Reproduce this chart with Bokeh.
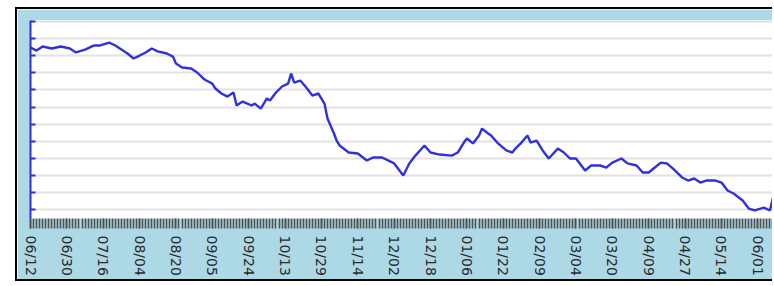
from bokeh.plotting import figure
from bokeh.models import Range1d, FixedTicker
from bokeh.embed import file_html
from bokeh.resources import INLINE

# ---- data ----
day_index = [0, 2, 4, 7, 10, 13, 15, 18, 21, 23, 26, 28, 30, 32, 34, 36, 38, 40, 42, 45,
             47, 48, 50, 53, 55, 57, 58, 60, 61, 63, 65, 67, 68, 70, 73, 74, 76, 78, 79, 81,
             83, 85, 86, 87, 89, 91, 93, 95, 97, 98, 100, 101, 102, 105, 108, 111, 113, 116, 120, 123,
             125, 127, 130, 132, 135, 139, 141, 143, 144, 146, 148, 149, 151, 152, 154, 157, 159, 160, 162, 164,
             165, 167, 169, 171, 174, 176, 178, 180, 183, 185, 188, 190, 192, 195, 197, 200, 202, 204, 206, 208,
             210, 212, 215, 217, 219, 221, 223, 226, 228, 230, 232, 235, 237, 239, 242, 244, 245]
price = [10.48, 10.30, 10.54, 10.42, 10.54, 10.42, 10.19, 10.36, 10.60, 10.60, 10.77, 10.60, 10.36, 10.13, 9.84, 10.01, 10.19, 10.42, 10.25, 10.13,
         9.95, 9.54, 9.31, 9.25, 9.02, 8.67, 8.55, 8.37, 8.08, 7.79, 7.61, 7.85, 7.09, 7.32, 7.09, 7.20, 6.91, 7.50, 7.38, 7.85,
         8.20, 8.37, 8.96, 8.43, 8.55, 8.14, 7.67, 7.79, 7.20, 6.33, 5.51, 5.04, 4.75, 4.34, 4.28, 3.87, 4.05, 4.05, 3.70, 2.99,
         3.70, 4.16, 4.75, 4.34, 4.22, 4.16, 4.34, 4.92, 5.16, 4.87, 5.33, 5.74, 5.45, 5.33, 4.92, 4.46, 4.34, 4.57, 4.92, 5.33,
         4.92, 5.04, 4.46, 3.99, 4.57, 4.34, 3.99, 3.99, 3.29, 3.58, 3.58, 3.46, 3.75, 3.99, 3.70, 3.58, 3.17, 3.17, 3.46, 3.75,
         3.70, 3.40, 2.88, 2.70, 2.82, 2.58, 2.70, 2.70, 2.58, 2.12, 1.94, 1.53, 1.06, 0.95, 1.12, 0.95, 1.71]
tick_labels = ["06/12", "06/30", "07/16", "08/04", "08/20", "09/05", "09/24", "10/13", "10/29", "11/14",
               "12/02", "12/18", "01/06", "01/22", "02/09", "03/04", "03/20", "04/09", "04/27", "05/14", "06/01"]
label_step = 12
n_days = 246
y_ticks = [1, 2, 3, 4, 5, 6, 7, 8, 9, 10, 11, 12]

BG = "#add8e6"

p = figure(width=757, height=274, output_backend="svg", toolbar_location=None,
           x_range=Range1d(0, 245.5), y_range=Range1d(0.48, 12.06),
           min_border_left=13, min_border_right=0, min_border_top=11, min_border_bottom=65)
p.styles = {"margin-left": "15px", "margin-top": "7px",
            "border-left": "2px solid black", "border-top": "2px solid black",
            "border-bottom": "2px solid black"}
p.background_fill_color = "white"
p.border_fill_color = BG
p.outline_line_color = None

p.line(day_index, price, line_color="#3030dc", line_width=2.4)

# x axis: a small tick at every day, labelled ticks every 12 days
label_pos = [k * label_step for k in range(len(tick_labels))]
p.xaxis.ticker = FixedTicker(ticks=label_pos, minor_ticks=list(range(n_days)))
p.xaxis.major_label_overrides = {pos: lab for pos, lab in zip(label_pos, tick_labels)}
p.xaxis.major_label_orientation = "vertical"
p.xaxis.major_label_text_font = "DejaVu Sans"
p.xaxis.major_label_text_font_size = "14px"
p.xaxis.major_label_text_color = "#2a2a2a"
p.xaxis.major_label_standoff = 7
p.xaxis.major_tick_out = 10
p.xaxis.major_tick_in = 0
p.xaxis.major_tick_line_color = "#505050"
p.xaxis.major_tick_line_width = 1.6
p.xaxis.minor_tick_out = 10
p.xaxis.minor_tick_in = 0
p.xaxis.minor_tick_line_color = "#505050"
p.xaxis.minor_tick_line_width = 1.6
p.xaxis.axis_line_color = None
p.xgrid.grid_line_color = None

# y axis: blue line, inward ticks, no labels
p.yaxis.ticker = FixedTicker(ticks=y_ticks)
p.yaxis.major_label_overrides = {t: "" for t in y_ticks}
p.yaxis.major_label_standoff = 0
p.yaxis.axis_line_color = "#3030d0"
p.yaxis.axis_line_width = 2
p.yaxis.major_tick_line_color = "#3030d0"
p.yaxis.major_tick_line_width = 2
p.yaxis.major_tick_in = 5
p.yaxis.major_tick_out = 0
p.yaxis.minor_tick_line_color = None
p.ygrid.grid_line_color = "#e2e2e2"
p.ygrid.grid_line_width = 2

open("out.html", "w").write(file_html(p, INLINE))
